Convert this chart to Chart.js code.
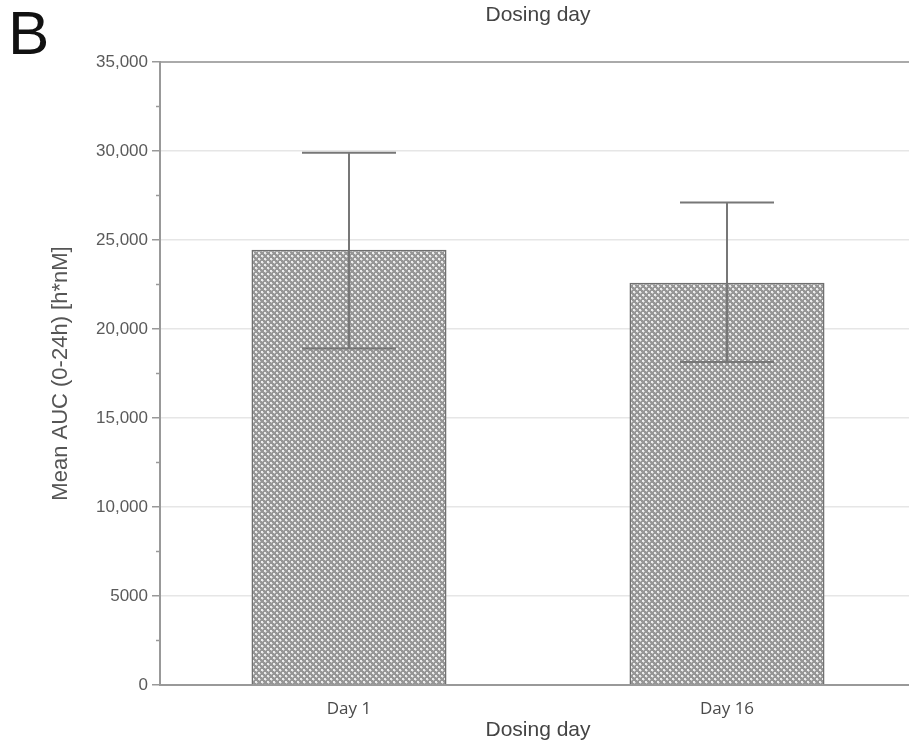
<!DOCTYPE html>
<html>
<head>
<meta charset="utf-8">
<script src="https://cdn.jsdelivr.net/npm/chart.js@4"></script>
<style>
  html, body { margin: 0; padding: 0; background: #fff; overflow: hidden; }
  #wrap { position: relative; width: 920px; height: 751px; }
  #panel {
    position: absolute; left: 8px; top: 2px;
    font: 62px "Liberation Sans", Arial, sans-serif; line-height: 1; color: #111;
  }
</style>
</head>
<body>
<div id="wrap">
  <canvas id="aucChart" width="920" height="751"></canvas>
  <div id="panel">B</div>
</div>
<script>
// data
const categories = ["Day 1", "Day 16"];
const meanAuc = [24450, 22600];
const errLow = [18900, 18150];
const errHigh = [29900, 27100];

// stippled grey fill
function makePattern() {
  const c = document.createElement("canvas");
  c.width = 6;
  c.height = 6;
  const g = c.getContext("2d");
  g.fillStyle = "#969696";
  g.fillRect(0, 0, 6, 6);
  g.fillStyle = "#ececec";
  g.fillRect(0, 0, 2, 2);
  g.fillRect(3, 3, 2, 2);
  g.fillStyle = "#c4c4c4";
  g.fillRect(2, 1, 1, 1);
  g.fillRect(5, 4, 1, 1);
  g.fillRect(1, 2, 1, 1);
  g.fillRect(4, 5, 1, 1);
  return g.createPattern(c, "repeat");
}

const errorBars = {
  id: "errorBars",
  afterDatasetsDraw(chart) {
    const ctx = chart.ctx;
    const y = chart.scales.y;
    const meta = chart.getDatasetMeta(0);
    ctx.save();
    ctx.strokeStyle = "#777";
    ctx.lineWidth = 2;
    meta.data.forEach((bar, i) => {
      const top = y.getPixelForValue(errHigh[i]);
      const bottom = y.getPixelForValue(errLow[i]);
      ctx.beginPath();
      ctx.moveTo(bar.x, top);
      ctx.lineTo(bar.x, bottom);
      ctx.moveTo(bar.x - 47, top);
      ctx.lineTo(bar.x + 47, top);
      ctx.moveTo(bar.x - 47, bottom);
      ctx.lineTo(bar.x + 47, bottom);
      ctx.stroke();
    });
    ctx.restore();
  }
};

// short minor ticks on the value axis
const minorTicks = {
  id: "minorTicks",
  afterDraw(chart) {
    const ctx = chart.ctx;
    const y = chart.scales.y;
    ctx.save();
    ctx.strokeStyle = "#999";
    ctx.lineWidth = 1.5;
    y.ticks.forEach(t => {
      if (t.value % 5000 === 0) return;
      const py = y.getPixelForValue(t.value);
      ctx.beginPath();
      ctx.moveTo(y.right - 4, py);
      ctx.lineTo(y.right, py);
      ctx.stroke();
    });
    ctx.restore();
  }
};

new Chart(document.getElementById("aucChart"), {
  type: "bar",
  data: {
    labels: categories,
    datasets: [{
      data: meanAuc,
      backgroundColor: makePattern(),
      borderColor: "#6f6f6f",
      borderWidth: 1.5,
      categoryPercentage: 0.516,
      barPercentage: 1
    }]
  },
  plugins: [errorBars, minorTicks],
  options: {
    responsive: false,
    animation: false,
    layout: { padding: { left: 0, right: 4, top: 0, bottom: 0 } },
    plugins: {
      legend: { display: false },
      tooltip: { enabled: false }
    },
    scales: {
      x: {
        grid: { display: false },
        border: { display: true, color: "#999", width: 2 },
        ticks: {
          color: "#4a4a4a",
          padding: 6,
          font: { family: "'Open Sans', sans-serif", size: 17 }
        },
        title: {
          display: true,
          text: "Dosing day",
          color: "#444",
          padding: { top: 0, bottom: 8 },
          font: { family: "'Liberation Sans', Arial, sans-serif", size: 21, lineHeight: 1.2 }
        },
        afterFit(scale) { scale.height = 66; }
      },
      xTop: {
        type: "category",
        position: "top",
        grid: { display: false },
        border: { display: true, color: "#aaa", width: 2 },
        ticks: { display: false },
        title: {
          display: true,
          text: "Dosing day",
          color: "#444",
          padding: { top: 3, bottom: 0 },
          font: { family: "'Liberation Sans', Arial, sans-serif", size: 21, lineHeight: 1.2 }
        },
        afterFit(scale) { scale.height = 62; }
      },
      y: {
        min: 0,
        max: 35000,
        border: { display: true, color: "#999", width: 2 },
        grid: {
          color: ctx => (ctx.tick && ctx.tick.value % 5000 === 0) ? "#e6e6e6" : "rgba(0,0,0,0)",
          lineWidth: 1.5,
          tickColor: ctx => (ctx.tick && ctx.tick.value % 5000 === 0) ? "#999" : "rgba(0,0,0,0)",
          tickLength: 8
        },
        ticks: {
          stepSize: 2500,
          autoSkip: false,
          padding: 4,
          color: "#5a5a5a",
          font: { family: "'Liberation Sans', Arial, sans-serif", size: 17 },
          callback: v => v % 5000 !== 0 ? "" : (v >= 10000 ? v.toLocaleString("en-US") : String(v))
        },
        title: {
          display: true,
          text: "Mean AUC (0-24h) [h*nM]",
          color: "#555",
          padding: { top: 48, bottom: 0 },
          font: { family: "'Liberation Sans', Arial, sans-serif", size: 22, lineHeight: 1.2 }
        },
        afterFit(scale) { scale.width = 160; }
      }
    }
  }
});
</script>
</body>
</html>
